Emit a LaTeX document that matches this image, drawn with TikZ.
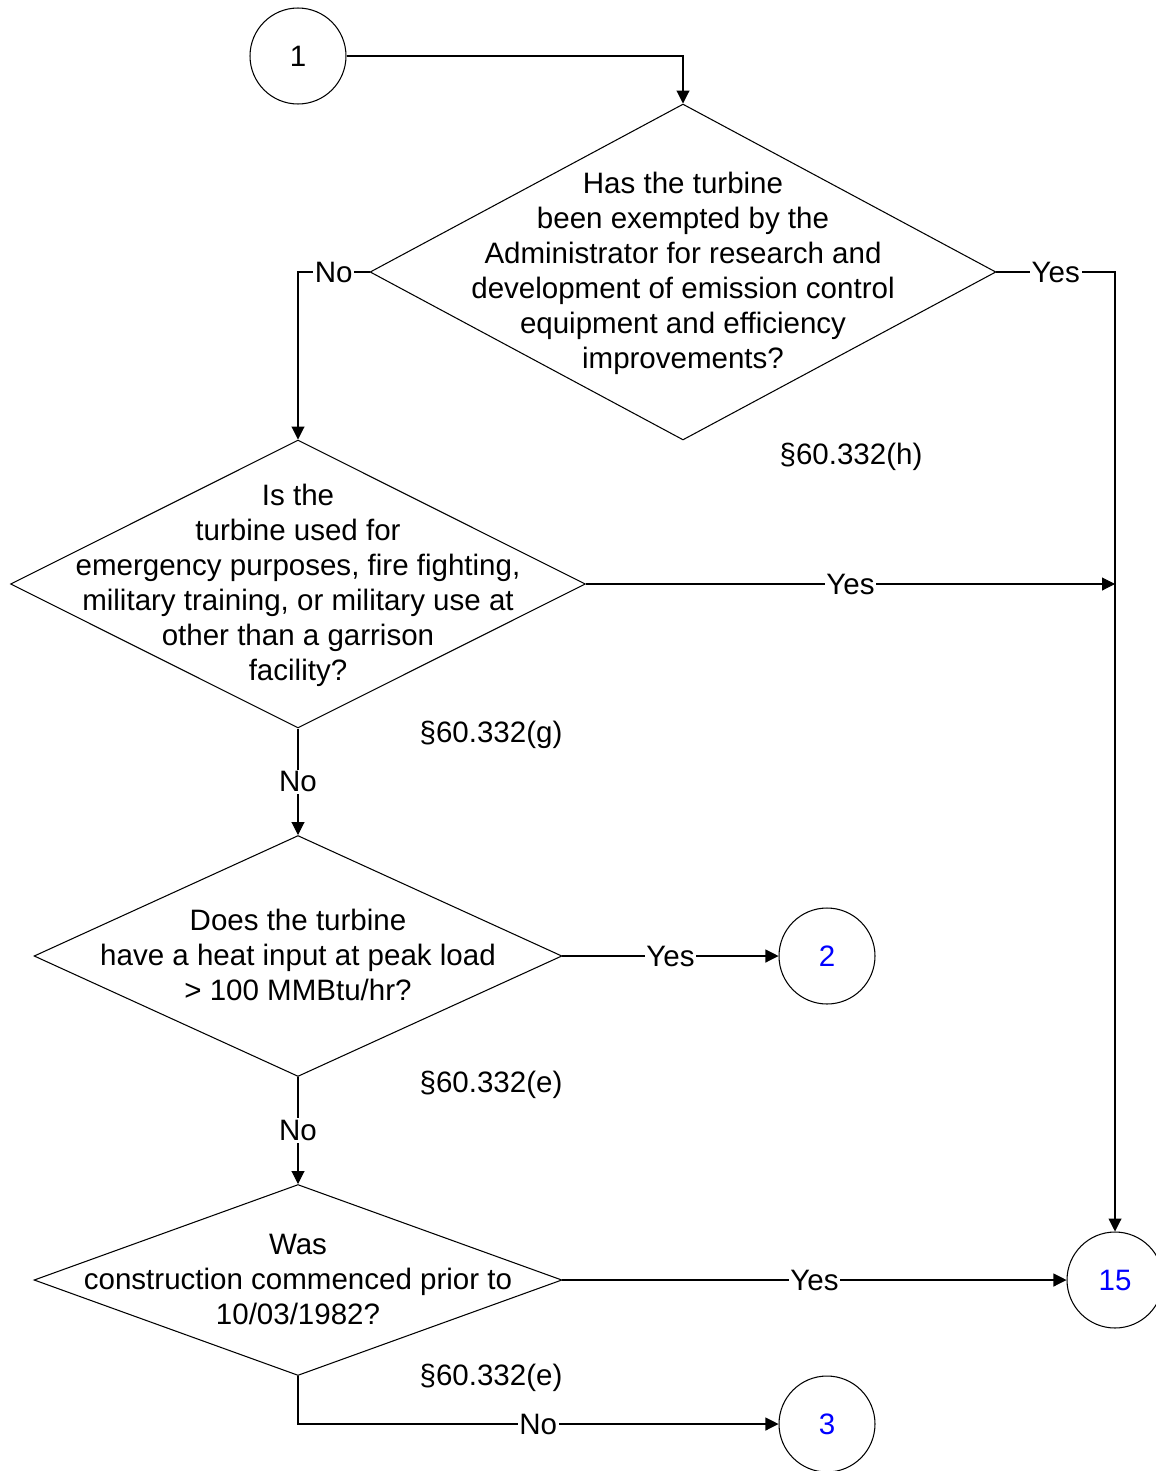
\documentclass[tikz,border=0pt]{standalone}
\usepackage{fontspec}
\setmainfont{Liberation Sans}
\usetikzlibrary{shapes.geometric,arrows.meta}

\begin{document}
\begin{tikzpicture}[x=0.02cm,y=-0.02cm,
   font=\fontsize{16.8}{19.9}\selectfont,
   decision/.style={draw,diamond,inner sep=0pt,line width=0.6pt},
   qtext/.style={align=center,inner sep=0pt},
   conn/.style={draw,circle,minimum size=1.92cm,inner sep=0pt,line width=0.6pt},
   flow/.style={-{Triangle[length=0.26cm,width=0.26cm]},line width=0.6pt},
   ans/.style={fill=white,inner sep=1pt}]
   \useasboundingbox (0,0) rectangle (1156,1471);
   % connectors
   \node[conn] (c1) at (298,56) {1};
   \node[conn,text=blue] (c2) at (827,956) {2};
   \node[conn,text=blue] (c15) at (1115,1280) {15};
   \node[conn,text=blue] (c3) at (827,1424) {3};
   % decisions
   \node[decision,minimum width=12.52cm,minimum height=6.72cm] (d1) at (683,272) {};
   \node[qtext] (d1text) at ([yshift=-0.03cm]d1) {Has the turbine\\been exempted by the\\Administrator for research and\\development of emission control\\equipment and efficiency\\improvements?};
   \node[decision,minimum width=11.5cm,minimum height=5.76cm] (d2) at (298,584) {};
   \node[qtext] (d2text) at ([yshift=-0.03cm]d2) {Is the\\turbine used for\\emergency purposes, fire fighting,\\military training, or military use at\\other than a garrison\\facility?};
   \node[decision,minimum width=10.56cm,minimum height=4.82cm] (d3) at (298,956) {};
   \node[qtext] (d3text) at ([yshift=0.03cm]d3) {Does the turbine\\have a heat input at peak load\\> 100 MMBtu/hr?};
   \node[decision,minimum width=10.56cm,minimum height=3.82cm] (d4) at (298,1280) {};
   \node[qtext] (d4text) at ([yshift=0.01cm]d4) {Was\\construction commenced prior to\\10/03/1982?};
   % references
   \node (s1) at (851,457) {§60.332(h)};
   \node (s2) at (491,735) {§60.332(g)};
   \node (s3) at (491,1085) {§60.332(e)};
   \node (s4) at (491,1378) {§60.332(e)};
   \coordinate (j1) at (1115,584);
   % flow lines
   \draw[flow] (c1.east) -| (d1.north);
   \draw[flow] (d1.west) -| node[ans,pos=0.25] {No} (d2.north);
   \draw[flow] (d1.east) -| node[ans,pos=0.25] {Yes} (c15.north);
   \draw[flow] (d2.east) -- node[ans] {Yes} (j1);
   \draw[flow] (d2.south) -- node[ans] {No} (d3.north);
   \draw[flow] (d3.east) -- node[ans] {Yes} (c2.west);
   \draw[flow] (d3.south) -- node[ans] {No} (d4.north);
   \draw[flow] (d4.east) -- node[ans] {Yes} (c15.west);
   \draw[flow] (d4.south) |- node[ans,pos=0.75] {No} (c3.west);
\end{tikzpicture}
\end{document}
